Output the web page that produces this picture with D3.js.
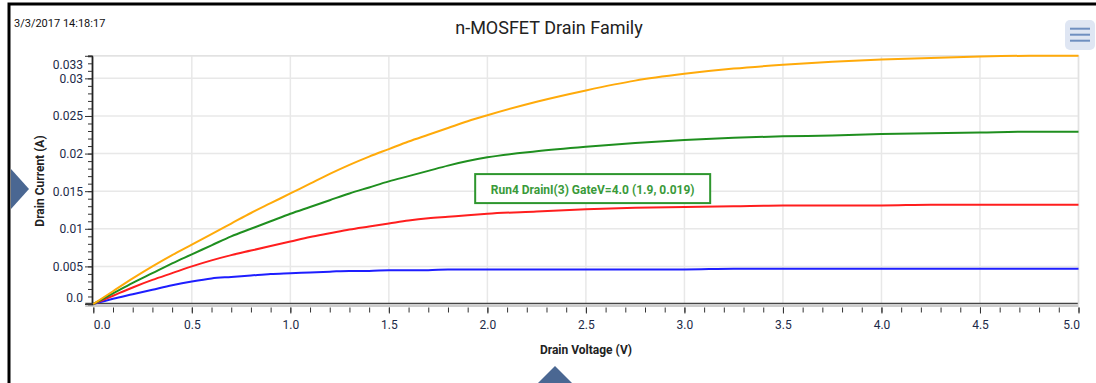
<!DOCTYPE html>
<html>
<head>
<meta charset="utf-8">
<script src="https://cdn.jsdelivr.net/npm/d3@7/dist/d3.min.js"></script>
<style>
  html, body { margin: 0; padding: 0; background: #fff; }
  svg { display: block; font-family: Roboto, "Noto Sans", sans-serif; }
</style>
</head>
<body>
<svg id="chart" width="1096" height="383"></svg>
<script>
// Drain voltage sweep (V)
const drainVoltage = [0, 0.1, 0.2, 0.3, 0.4, 0.5, 0.6, 0.7, 0.8, 0.9, 1.0,
  1.1, 1.2, 1.3, 1.4, 1.5, 1.6, 1.7, 1.8, 1.9, 2.0,
  2.25, 2.5, 2.75, 3.0, 3.25, 3.5, 3.75, 4.0, 4.25, 4.5, 4.75, 5.0];

// Drain current (A) for each gate voltage step
const drainI_run1 = [0, 0.0007, 0.0013, 0.0019, 0.0025, 0.0030, 0.0034, 0.0036, 0.0038, 0.0040, 0.0041,
  0.0042, 0.0043, 0.0044, 0.0044, 0.0045, 0.0045, 0.0045, 0.0046, 0.0046, 0.0046,
  0.0046, 0.0046, 0.0046, 0.0046, 0.0047, 0.0047, 0.0047, 0.0047, 0.0047, 0.0047, 0.0047, 0.0047];
const drainI_run2 = [0, 0.0011, 0.0022, 0.0032, 0.0041, 0.0050, 0.0058, 0.0065, 0.0071, 0.0077, 0.0083,
  0.0089, 0.0094, 0.0099, 0.0103, 0.0107, 0.0111, 0.0114, 0.0116, 0.0118, 0.0120,
  0.0123, 0.0126, 0.0128, 0.0129, 0.0130, 0.0131, 0.0131, 0.0131, 0.0132, 0.0132, 0.0132, 0.0132];
const drainI_run4 = [0, 0.0014, 0.0028, 0.0041, 0.0054, 0.0066, 0.0078, 0.0090, 0.0100, 0.0110, 0.0120,
  0.0129, 0.0138, 0.0147, 0.0155, 0.0163, 0.0170, 0.0177, 0.0184, 0.0190, 0.0195,
  0.0203, 0.0209, 0.0214, 0.0218, 0.0221, 0.0223, 0.0224, 0.0226, 0.0227, 0.0228, 0.0229, 0.0229];
const drainI_run5 = [0, 0.0017, 0.0034, 0.0050, 0.0065, 0.0079, 0.0093, 0.0107, 0.0121, 0.0134, 0.0147,
  0.0160, 0.0173, 0.0185, 0.0196, 0.0206, 0.0216, 0.0225, 0.0234, 0.0243, 0.0251,
  0.0269, 0.0284, 0.0297, 0.0306, 0.0313, 0.0318, 0.0322, 0.0325, 0.0327, 0.0329, 0.0330, 0.0330];

const seriesColors = ["#1e1eff", "#ff1e1e", "#1f8f1f", "#ffaa0a"];
const seriesData = [drainI_run1, drainI_run2, drainI_run4, drainI_run5];

// Axis ticks
const xTicks = [0, 0.5, 1.0, 1.5, 2.0, 2.5, 3.0, 3.5, 4.0, 4.5, 5.0];
const yTicks = [0, 0.005, 0.01, 0.015, 0.02, 0.025, 0.03, 0.033];
const yTickLabels = ["0.0", "0.005", "0.01", "0.015", "0.02", "0.025", "0.03", "0.033"];

// Highlighted point readout
const hoverSeries = "Run4 DrainI(3) GateV=4.0";
const hoverPoint = [1.9, 0.019];

const svg = d3.select("#chart");

const x = d3.scaleLinear().domain([0, 5]).range([93.3, 1078.5]);
const y = d3.scaleLinear().domain([0, 0.033]).range([304, 55.8]);

// Outer frame
svg.append("rect").attr("x", 9).attr("y", 4).attr("width", 1200).attr("height", 500)
  .attr("fill", "#fff").attr("stroke", "#000").attr("stroke-width", 3);

// Timestamp and title
svg.append("text").attr("x", 14).attr("y", 27).attr("font-size", 11).attr("fill", "#111")
  .text("3/3/2017 14:18:17");
svg.append("text").attr("x", 549).attr("y", 34).attr("text-anchor", "middle")
  .attr("font-size", 18).attr("fill", "#222").text("n-MOSFET Drain Family");

// Grid
const grid = svg.append("g").attr("stroke", "#e8e8e8").attr("stroke-width", 1.5);
grid.selectAll(".gx").data(xTicks.slice(1)).join("line")
  .attr("x1", d => x(d)).attr("x2", d => x(d)).attr("y1", y(0.033)).attr("y2", y(0));
grid.selectAll(".gy").data(yTicks.slice(1)).join("line")
  .attr("x1", x(0)).attr("x2", x(5)).attr("y1", d => y(d)).attr("y2", d => y(d));

// Y axis with minor ticks
const yMinor = d3.range(0, 34).map(i => i / 1000);
const yAxisG = svg.append("g").attr("transform", `translate(${x(0) - 1.3},0)`);
yAxisG.call(d3.axisLeft(y).tickValues(yMinor).tickSize(4).tickFormat(""));
yAxisG.call(g => g.selectAll(".tick line").attr("stroke", "#333"));
yAxisG.call(g => g.select(".domain").attr("stroke", "#222").attr("stroke-width", 1.8));
const yMajor = svg.append("g").attr("transform", `translate(${x(0) - 1.3},0)`);
yMajor.call(d3.axisLeft(y).tickValues(yTicks).tickSize(7)
  .tickFormat((d, i) => yTickLabels[i]));
yMajor.select(".domain").remove();
yMajor.selectAll(".tick line").attr("stroke", "#333");
yMajor.selectAll(".tick text").attr("font-size", 12).attr("fill", "#1c2a48")
  .attr("font-family", "Roboto, sans-serif").attr("x", -9)
  .attr("dy", (d, i) => i === yTicks.length - 1 ? "1.05em" : (i === 0 ? "-0.2em" : "0.32em"));

// Zero line (double rule)
svg.append("line").attr("x1", x(0) - 8).attr("x2", x(5)).attr("y1", y(0) - 0.5).attr("y2", y(0) - 0.5)
  .attr("stroke", "#444").attr("stroke-width", 1.5);
svg.append("line").attr("x1", x(0) - 8).attr("x2", x(5)).attr("y1", y(0) + 2).attr("y2", y(0) + 2)
  .attr("stroke", "#999").attr("stroke-width", 1);

// X axis with minor ticks
const xMinor = d3.range(0, 51).map(i => i / 10);
const xAxisG = svg.append("g").attr("transform", `translate(0,${y(0) + 3.5})`);
xAxisG.call(d3.axisBottom(x).tickValues(xMinor).tickSize(5).tickFormat(""));
xAxisG.select(".domain").remove();
xAxisG.selectAll(".tick line").attr("stroke", "#333");
const xMajor = svg.append("g").attr("transform", `translate(0,${y(0) + 3.5})`);
xMajor.call(d3.axisBottom(x).tickValues(xTicks).tickSize(6).tickFormat(d3.format(".1f")));
xMajor.select(".domain").remove();
xMajor.selectAll(".tick line").attr("stroke", "#333");
xMajor.selectAll(".tick text").attr("font-size", 12).attr("fill", "#1c2a48")
  .attr("font-family", "Roboto, sans-serif").attr("y", 13)
  .attr("text-anchor", (d, i) => i === 0 ? "start" : (i === xTicks.length - 1 ? "end" : "middle"))
  .attr("x", (d, i) => i === xTicks.length - 1 ? 1 : 0);

// Plot border (top/right)
svg.append("path")
  .attr("d", `M${x(0)},${y(0.033)}H${x(5)}V${y(0)}`)
  .attr("fill", "none").attr("stroke", "#e2e2e2").attr("stroke-width", 1.5);

// Axis titles
svg.append("text").attr("transform", `translate(44,181) rotate(-90)`)
  .attr("text-anchor", "middle").attr("font-size", 12).attr("font-weight", "bold")
  .attr("fill", "#222").text("Drain Current (A)");
svg.append("text").attr("x", 586).attr("y", 354).attr("text-anchor", "middle")
  .attr("font-size", 12).attr("font-weight", "bold").attr("fill", "#222")
  .text("Drain Voltage (V)");

// Curves
const line = d3.line().curve(d3.curveMonotoneX).x(d => x(d[0])).y(d => y(d[1]));
svg.append("g").selectAll("path").data(seriesData).join("path")
  .attr("d", s => line(drainVoltage.map((v, i) => [v, s[i]])))
  .attr("fill", "none").attr("stroke", (s, i) => seriesColors[i]).attr("stroke-width", 2);

// Readout box
const bx = x(hoverPoint[0]) + 7.5, by = y(hoverPoint[1]) + 13;
svg.append("rect").attr("x", bx).attr("y", by).attr("width", 235).attr("height", 29)
  .attr("fill", "#fff").attr("stroke", "#2e962e").attr("stroke-width", 2);
svg.append("text").attr("x", bx + 117.5).attr("y", by + 19.5).attr("text-anchor", "middle")
  .attr("font-size", 12).attr("font-weight", "bold").attr("fill", "#3a9a3a")
  .text(`${hoverSeries} (${hoverPoint[0]}, ${hoverPoint[1]})`);

// Menu button
svg.append("rect").attr("x", 1065).attr("y", 20).attr("width", 30).attr("height", 30).attr("rx", 5)
  .attr("fill", "#dfe6f3");
svg.append("g").selectAll("line").data([28.7, 34.7, 40.7]).join("line")
  .attr("x1", 1070).attr("x2", 1090).attr("y1", d => d).attr("y2", d => d)
  .attr("stroke", "#6f8fc0").attr("stroke-width", 2);

// Panel toggles
svg.append("path").attr("d", "M11,169L29,189L11,209Z").attr("fill", "#4a6792");
svg.append("path").attr("d", "M537,384L555,366L573,384Z").attr("fill", "#4a6792");
</script>
</body>
</html>
